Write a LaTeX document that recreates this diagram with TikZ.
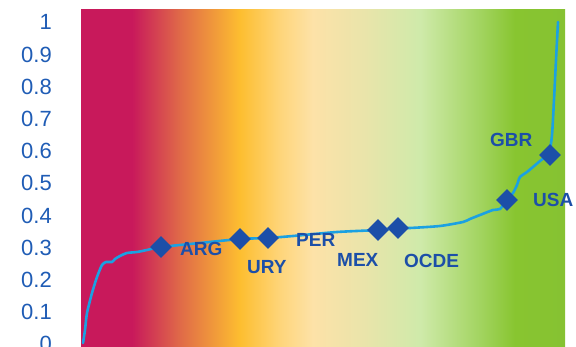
\documentclass[tikz,border=0pt]{standalone}
\usepackage{fontspec}
\setmainfont{Liberation Sans}
\usetikzlibrary{shapes.geometric}
\definecolor{cMag}{HTML}{C8195B}
\definecolor{cOr}{HTML}{E06A48}
\definecolor{cYel}{HTML}{FDBE30}
\definecolor{cLY}{HTML}{FED57A}
\definecolor{cPeach}{HTML}{FDE2A8}
\definecolor{cCream}{HTML}{EAE4AA}
\definecolor{cLG}{HTML}{CFEAAA}
\definecolor{cMG}{HTML}{A2D460}
\definecolor{cG}{HTML}{88C530}
\definecolor{cG2}{HTML}{86C232}
\definecolor{curveblue}{HTML}{1BA1E2}
\definecolor{markblue}{HTML}{1C4FA8}
\definecolor{tickblue}{HTML}{1F5CB5}
\pgfdeclarehorizontalshading{bggrad}{100bp}{%
color(0bp)=(cMag); color(25bp)=(cMag); color(30.27bp)=(cMag); color(35.23bp)=(cOr);
color(41.43bp)=(cYel); color(45.56bp)=(cLY); color(48.97bp)=(cPeach); color(54.13bp)=(cCream);
color(60.02bp)=(cLG); color(66.22bp)=(cMG); color(69.83bp)=(cG); color(75bp)=(cG2); color(100bp)=(cG2)}
\tikzset{
  ticklab/.style={anchor=base east, inner sep=0pt, text=tickblue, font=\fontsize{22}{22}\selectfont},
  countrylab/.style={anchor=base west, inner sep=0pt, text=markblue, font=\fontsize{19}{19}\selectfont\bfseries},
  marker/.style={diamond, fill=markblue, minimum size=22pt, inner sep=0pt},
  curveline/.style={draw=curveblue, line width=2.6pt, line join=round, line cap=round}
}
\begin{document}
\begin{tikzpicture}[x=1pt,y=-1pt]
\useasboundingbox (0,0) rectangle (576,347);
\shade[shading=bggrad] (81,10) rectangle (565,347);
% tick labels
\foreach \v/\t [count=\i] in {1/1,0.9/0.9,0.8/0.8,0.7/0.7,0.6/0.6,0.5/0.5,0.4/0.4,0.3/0.3,0.2/0.2,0.1/0.1,0/0}{
  \pgfmathsetmacro{\yy}{344-322*\v+8}
  \node[ticklab] (tick\i) at (52,\yy) {\t};
}
% curve
\draw[curveline] plot[smooth, tension=0.4] coordinates {
(83,343) (85,330) (87,313) (92,293) (97,277) (102,265) (106,262) (112,262)
(115,259) (120,256) (127,253) (137,252) (147,250) (161,247) (200,243)
(240,239) (268,238) (293,236) (337,232) (378,230) (398,228) (410,228)
(440,226) (463,222) (470,219) (480,215) (493,210) (500,209) (507,200)
(513,193) (517,185) (520,177) (527,172) (540,161) (549,153) (552,135)
(554,100) (556,60) (558,22)};
% markers
\node[marker] (mARG) at (161,247) {};
\node[marker] (mURY) at (240,239) {};
\node[marker] (mPER) at (268,238) {};
\node[marker] (mMEX) at (378,230) {};
\node[marker] (mOCDE) at (398,228) {};
\node[marker] (mUSA) at (507,200) {};
\node[marker] (mGBR) at (550,155) {};
% labels
\node[countrylab] (lARG) at (180,256) {ARG};
\node[countrylab] (lURY) at (247,274) {URY};
\node[countrylab] (lPER) at (296,247) {PER};
\node[countrylab] (lMEX) at (337,267) {MEX};
\node[countrylab] (lOCDE) at (404,268) {OCDE};
\node[countrylab] (lGBR) at (490,147) {GBR};
\node[countrylab] (lUSA) at (533,207) {USA};
\end{tikzpicture}
\end{document}
